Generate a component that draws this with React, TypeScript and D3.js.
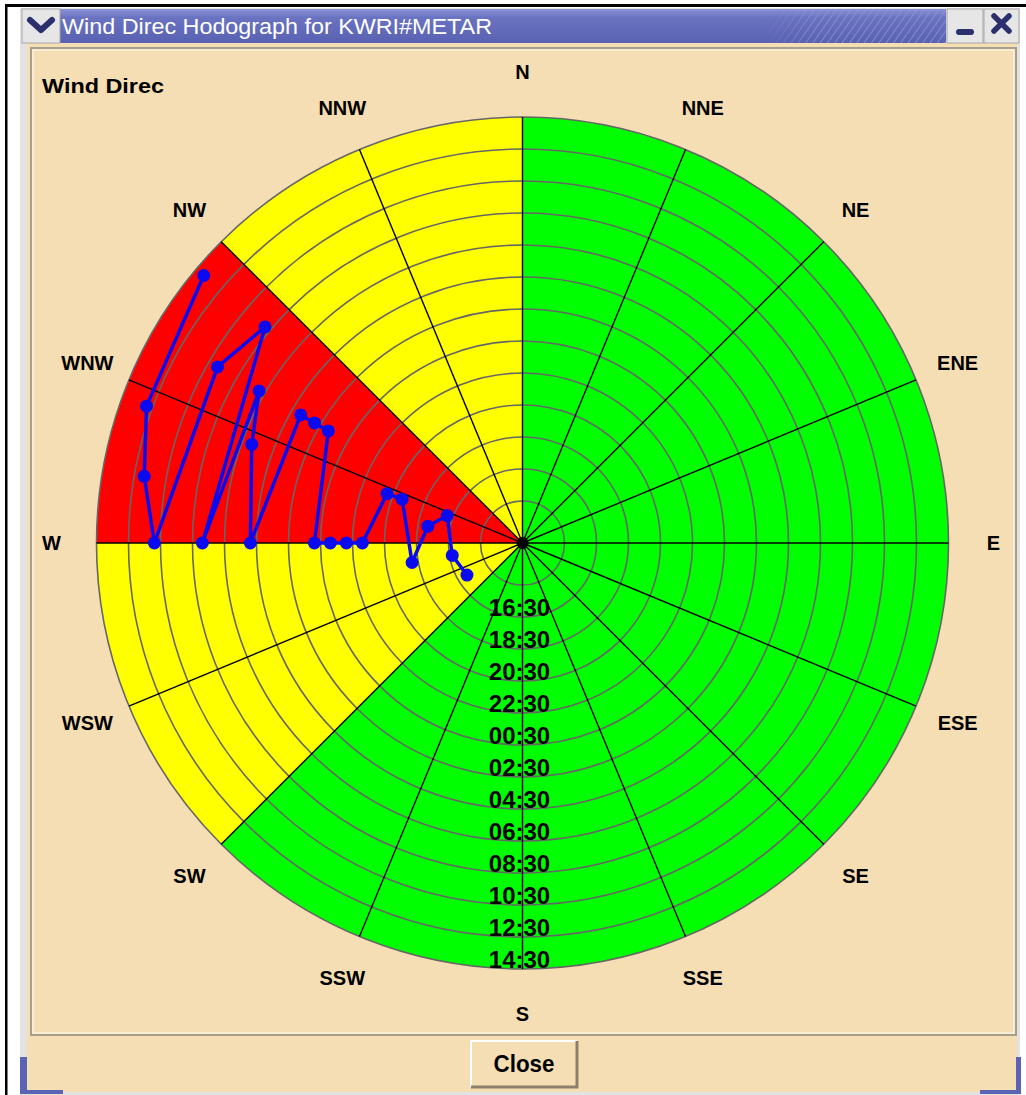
import React, { useEffect, useRef } from 'react';
import * as d3 from 'd3';

// radial axis starts at this clock time and spans 24 hours
const startTime = '14:30';

// METAR observations (time, wind direction in degrees)
const obsTimes = [
  '15:53', '16:20', '16:53', '17:53', '18:53', '19:53', '20:53', '21:53',
  '22:53', '23:53', '00:53', '01:53', '02:53', '03:53', '04:53', '05:53',
  '06:53', '07:53', '08:53', '09:53', '10:53', '11:53', '12:53', '13:53',
];
const windDir = [
  240, 260, 290, 280, 260, 290, 290, 270,
  270, 270, 270, 300, 300, 300, 270, 290,
  300, 270, 310, 300, 270, 280, 290, 310,
];

const timeLabels = [
  '16:30', '18:30', '20:30', '22:30', '00:30', '02:30',
  '04:30', '06:30', '08:30', '10:30', '12:30', '14:30',
];

const compassLabels = [
  'N', 'NNE', 'NE', 'ENE', 'E', 'ESE', 'SE', 'SSE',
  'S', 'SSW', 'SW', 'WSW', 'W', 'WNW', 'NW', 'NNW',
];

// colour sectors: edges in degrees and the category of each sector
const sectorEdges = [0, 225, 270, 315, 360];
const sectorKind = ['ok', 'warn', 'alert', 'warn'];

const toHours = (t: string) => {
  const [sh, sm] = startTime.split(':').map(Number);
  const [h, m] = t.split(':').map(Number);
  let v = h + m / 60 - (sh + sm / 60);
  if (v <= 0) v += 24;
  return v;
};

const App = () => {
  const ref = useRef<SVGSVGElement>(null);

  useEffect(() => {
    const svg = d3.select(ref.current);
    svg.selectAll('*').remove();
    const W = 1026;
    const H = 1095;
    const beige = '#f5deb3';
    const navy = '#2b2f6e';

    // ---------- window chrome ----------
    svg.append('rect').attr('width', W).attr('height', H).attr('fill', '#fff');
    svg.append('rect').attr('x', 5).attr('y', 4).attr('width', W - 5).attr('height', 3).attr('fill', '#000');
    svg.append('rect').attr('x', 5).attr('y', 4).attr('width', 2.5).attr('height', H).attr('fill', '#000');

    svg.append('rect').attr('x', 20).attr('y', 8).attr('width', 1000).attr('height', 1087).attr('fill', '#e2e2e2');
    svg.append('rect').attr('x', 27).attr('y', 43).attr('width', 990).attr('height', 1049).attr('fill', beige);

    const defs = svg.append('defs');
    const grad = defs.append('linearGradient').attr('id', 'tb').attr('x1', 0).attr('y1', 0).attr('x2', 0).attr('y2', 1);
    grad.append('stop').attr('offset', '0%').attr('stop-color', '#8a92d4');
    grad.append('stop').attr('offset', '25%').attr('stop-color', '#6a73c0');
    grad.append('stop').attr('offset', '100%').attr('stop-color', '#5961b2');
    const pat = defs.append('pattern').attr('id', 'hatch').attr('width', 6).attr('height', 6)
      .attr('patternUnits', 'userSpaceOnUse').attr('patternTransform', 'rotate(35)');
    pat.append('line').attr('x1', 0).attr('y1', 0).attr('x2', 0).attr('y2', 6)
      .attr('stroke', '#8f97d6').attr('stroke-width', 1.5);
    const fade = defs.append('linearGradient').attr('id', 'fade');
    fade.append('stop').attr('offset', '0%').attr('stop-color', '#fff').attr('stop-opacity', 0);
    fade.append('stop').attr('offset', '30%').attr('stop-color', '#fff').attr('stop-opacity', 1);
    defs.append('mask').attr('id', 'fm').append('rect')
      .attr('x', 760).attr('y', 9).attr('width', 186).attr('height', 34).attr('fill', 'url(#fade)');

    svg.append('rect').attr('x', 60).attr('y', 9).attr('width', 886).attr('height', 34).attr('fill', 'url(#tb)');
    svg.append('rect').attr('x', 760).attr('y', 9).attr('width', 186).attr('height', 34)
      .attr('fill', 'url(#hatch)').attr('mask', 'url(#fm)');
    svg.append('text').attr('x', 62).attr('y', 34).attr('fill', '#fff')
      .attr('font-family', 'Liberation Sans, Arial, sans-serif').attr('font-size', 22)
      .attr('textLength', 430).attr('lengthAdjust', 'spacingAndGlyphs')
      .text('Wind Direc Hodograph for KWRI#METAR');

    // title buttons
    [[22, 38], [947, 36], [984, 35]].forEach(([x, w]) => {
      svg.append('rect').attr('x', x).attr('y', 9).attr('width', w).attr('height', 34)
        .attr('fill', '#e6e6e6').attr('stroke', '#a8a8a8');
    });
    svg.append('path').attr('d', 'M30,20 L41,30 L52,20').attr('fill', 'none')
      .attr('stroke', navy).attr('stroke-width', 6).attr('stroke-linejoin', 'round').attr('stroke-linecap', 'round');
    svg.append('rect').attr('x', 956).attr('y', 29).attr('width', 18).attr('height', 6).attr('rx', 3).attr('fill', navy);
    svg.append('path').attr('d', 'M994,16 L1009,31 M1009,16 L994,31').attr('stroke', navy)
      .attr('stroke-width', 5.5).attr('stroke-linecap', 'round');

    // blue bottom corners
    svg.append('path').attr('d', 'M20,1057 H27 V1090 H63 V1094 H20 Z').attr('fill', '#5a63b4');
    svg.append('path').attr('d', 'M1016,1057 H1021 V1094 H980 V1090 H1016 Z').attr('fill', '#5a63b4');

    // inner panel border
    svg.append('rect').attr('x', 31).attr('y', 48).attr('width', 985).attr('height', 987)
      .attr('fill', beige).attr('stroke', '#a89e8c').attr('stroke-width', 2);
    svg.append('rect').attr('x', 33).attr('y', 50).attr('width', 981).attr('height', 983)
      .attr('fill', 'none').attr('stroke', '#fffaf0').attr('stroke-width', 1);

    // close button
    svg.append('rect').attr('x', 470).attr('y', 1040).attr('width', 108).attr('height', 48).attr('fill', beige);
    svg.append('path').attr('d', 'M471,1087 V1041 H577').attr('fill', 'none').attr('stroke', '#fff').attr('stroke-width', 2);
    svg.append('path').attr('d', 'M471,1087 H577 V1041').attr('fill', 'none').attr('stroke', '#8c806c').attr('stroke-width', 3);
    svg.append('text').attr('x', 524).attr('y', 1072).attr('text-anchor', 'middle')
      .attr('font-family', 'Liberation Sans, Arial, sans-serif').attr('font-weight', 'bold').attr('font-size', 23)
      .attr('textLength', 61).attr('lengthAdjust', 'spacingAndGlyphs').attr('fill', '#000').text('Close');

    // ---------- polar chart ----------
    const cx = 522.5;
    const cy = 543;
    const r = d3.scaleLinear().domain([0, 24]).range([42, 426]);
    const deg = (d: number) => (d * Math.PI) / 180;
    const color = d3.scaleOrdinal<string, string>().domain(['ok', 'warn', 'alert']).range(['#00ff00', '#ffff00', '#ff0000']);

    const g = svg.append('g').attr('transform', `translate(${cx},${cy})`);
    const arc = d3.arc<number>()
      .innerRadius(0)
      .outerRadius(r(24))
      .startAngle(i => deg(sectorEdges[i]))
      .endAngle(i => deg(sectorEdges[i + 1]));
    g.selectAll('path.sector').data(d3.range(sectorKind.length)).join('path')
      .attr('class', 'sector').attr('d', arc).attr('fill', i => color(sectorKind[i]));

    // time rings every 2 hours
    g.selectAll('circle.ring').data(d3.range(0, 25, 2)).join('circle')
      .attr('class', 'ring').attr('r', d => r(d)).attr('fill', 'none')
      .attr('stroke', '#666').attr('stroke-width', 1.6);

    // spokes
    g.selectAll('line.spoke').data(compassLabels).join('line')
      .attr('class', 'spoke')
      .attr('x2', (_, i) => d3.pointRadial(deg(i * 22.5), r(24))[0])
      .attr('y2', (_, i) => d3.pointRadial(deg(i * 22.5), r(24))[1])
      .attr('stroke', '#000').attr('stroke-width', 1.4);

    g.append('circle').attr('r', 6).attr('fill', '#000');

    // compass labels
    g.selectAll('text.dir').data(compassLabels).join('text')
      .attr('class', 'dir')
      .attr('x', (_, i) => d3.pointRadial(deg(i * 22.5), 471)[0])
      .attr('y', (_, i) => d3.pointRadial(deg(i * 22.5), 471)[1])
      .attr('text-anchor', 'middle').attr('dominant-baseline', 'central')
      .attr('font-family', 'Liberation Sans, Arial, sans-serif').attr('font-weight', 'bold')
      .attr('font-size', 20).attr('fill', '#000')
      .text(d => d);

    // time labels, baseline on their ring
    g.selectAll('text.time').data(timeLabels).join('text')
      .attr('class', 'time')
      .attr('x', -3)
      .attr('y', d => r(toHours(d)) - 1)
      .attr('text-anchor', 'middle')
      .attr('font-family', 'Liberation Sans, Arial, sans-serif').attr('font-weight', 'bold')
      .attr('font-size', 24).attr('fill', '#000')
      .text(d => d);

    // hodograph trace
    const pts = obsTimes.map((t, i) => d3.pointRadial(deg(windDir[i]), r(toHours(t))));
    g.append('path').datum(pts)
      .attr('d', d3.line())
      .attr('fill', 'none').attr('stroke', '#0a0af0').attr('stroke-width', 3.5).attr('stroke-linejoin', 'round');
    g.selectAll('circle.obs').data(pts).join('circle')
      .attr('class', 'obs').attr('cx', d => d[0]).attr('cy', d => d[1]).attr('r', 6.5).attr('fill', '#0a0af0');

    svg.append('text').attr('x', 42).attr('y', 93)
      .attr('font-family', 'Liberation Sans, Arial, sans-serif').attr('font-weight', 'bold').attr('font-size', 21)
      .attr('textLength', 122).attr('lengthAdjust', 'spacingAndGlyphs').attr('fill', '#000').text('Wind Direc');
  }, []);

  return (
    <svg
      ref={ref}
      width={1026}
      height={1095}
      style={{ position: 'absolute', left: 0, top: 0, display: 'block' }}
    />
  );
};

export default App;
